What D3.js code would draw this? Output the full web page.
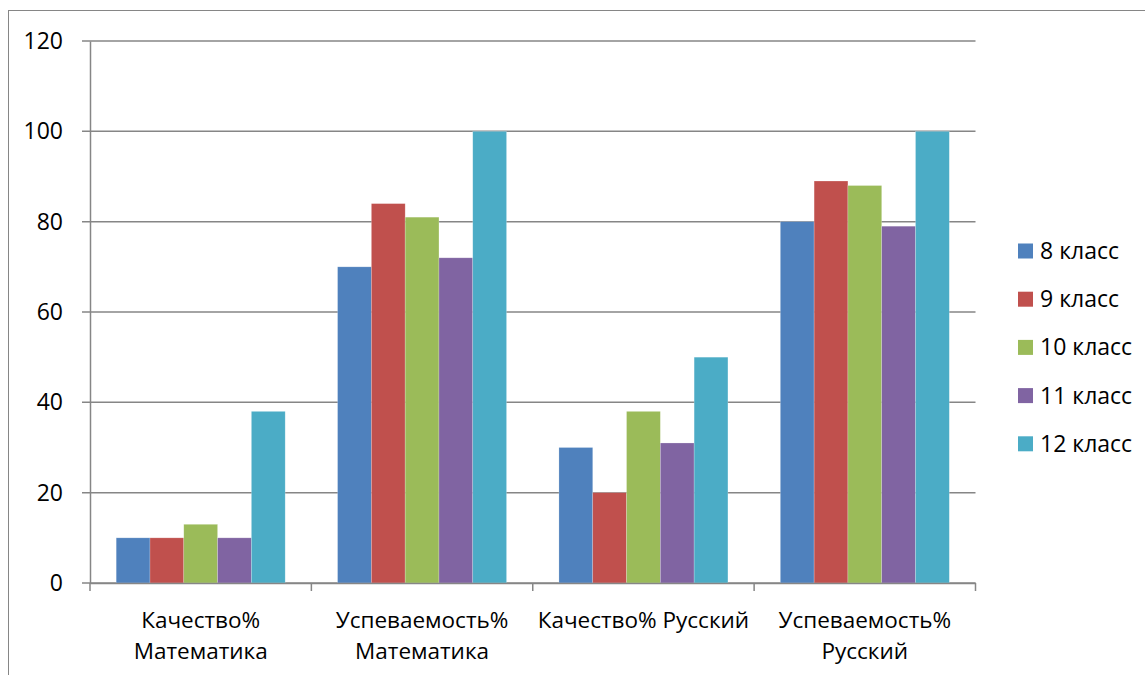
<!DOCTYPE html>
<html><head><meta charset="utf-8">
<script src="https://cdn.jsdelivr.net/npm/d3@7"></script>
<style>body{margin:0;background:#fff}svg{display:block}text{font-family:"Open Sans","Noto Sans",sans-serif;fill:#000}</style>
</head><body><svg id="c" width="1145" height="675"></svg>
<script>
const categories = ["Качество% Математика", "Успеваемость% Математика", "Качество% Русский", "Успеваемость% Русский"];
const seriesNames = ["8 класс", "9 класс", "10 класс", "11 класс", "12 класс"];
const s8  = [10, 70, 30, 80];
const s9  = [10, 84, 20, 89];
const s10 = [13, 81, 38, 88];
const s11 = [10, 72, 31, 79];
const s12 = [38, 100, 50, 100];
const yTicks = [0, 20, 40, 60, 80, 100, 120];
const colors = ["#4F81BD", "#C0504D", "#9BBB59", "#8064A2", "#4BACC6"];
const seriesValues = [s8, s9, s10, s11, s12];

(function () {
const svg = d3.select("#c");
svg.append("rect").attr("x", 8.5).attr("y", 10.5).attr("width", 1200).attr("height", 800)
  .attr("fill", "none").attr("stroke", "#868686").attr("stroke-width", 1);

const mL = 90, mR = 975.5, mT = 41, mB = 583;
const x0 = d3.scaleBand().domain(categories).range([mL, mR]).paddingInner(0).paddingOuter(0);
const inner = d3.scaleBand().domain(seriesNames).range([0, x0.bandwidth()]).paddingInner(0).paddingOuter(0.775);
const y = d3.scaleLinear().domain([0, 120]).range([mB, mT]);

svg.append("g").selectAll("line").data(yTicks).join("line")
  .attr("x1", mL - 8).attr("x2", mR).attr("y1", d => y(d)).attr("y2", d => y(d))
  .attr("stroke", "#868686").attr("stroke-width", 1.5);

const yAxis = svg.append("g").attr("transform", `translate(${mL},0)`)
  .call(d3.axisLeft(y).tickValues(yTicks).tickSize(0).tickPadding(27));
yAxis.select(".domain").attr("stroke", "#868686").attr("stroke-width", 1.5);
yAxis.selectAll("text").style("font-size", "23px").style("font-family", "Open Sans").attr("fill", "#000");

const groups = svg.append("g").selectAll("g").data(categories).join("g")
  .attr("transform", d => `translate(${x0(d)},0)`);
groups.selectAll("rect").data((c, ci) => seriesNames.map((s, si) => ({s, si, v: seriesValues[si][ci]})))
  .join("rect")
  .attr("x", d => inner(d.s)).attr("width", inner.bandwidth())
  .attr("y", d => y(d.v)).attr("height", d => y(0) - y(d.v))
  .attr("fill", d => colors[d.si]).attr("stroke", "rgba(255,255,255,0.35)").attr("stroke-width", 0.6);

const xAxis = svg.append("g").attr("transform", `translate(0,${mB})`)
  .call(d3.axisBottom(x0).tickSize(0).tickFormat(""));
xAxis.select(".domain").attr("stroke", "#868686").attr("stroke-width", 1.5);
const bounds = categories.map(c => x0(c)).concat([mR]);
svg.append("g").selectAll("line").data(bounds).join("line")
  .attr("x1", d => d).attr("x2", d => d).attr("y1", mB).attr("y2", mB + 8)
  .attr("stroke", "#868686").attr("stroke-width", 1.5);

const maxW = x0.bandwidth();
categories.forEach(c => {
  const cx = x0(c) + x0.bandwidth() / 2;
  const t = svg.append("text").attr("x", cx).attr("y", 628)
    .attr("text-anchor", "middle").style("font-size", "22.5px");
  const words = c.split(" ");
  let line = [], ts = t.append("tspan").attr("x", cx);
  words.forEach(w => {
    line.push(w);
    ts.text(line.join(" "));
    if (ts.node().getComputedTextLength() > maxW && line.length > 1) {
      line.pop(); ts.text(line.join(" "));
      line = [w];
      ts = t.append("tspan").attr("x", cx).attr("dy", "31").text(w);
    }
  });
});

const lg = svg.append("g").selectAll("g").data(seriesNames).join("g")
  .attr("transform", (d, i) => `translate(1018,${251 + i * 48.2})`);
lg.append("rect").attr("x", 0).attr("y", -7.5).attr("width", 15).attr("height", 15).attr("fill", (d, i) => colors[i]);
lg.append("text").attr("x", 22).attr("y", 0).attr("dy", "0.35em").style("font-size", "23px").text(d => d);
})();
</script></body></html>
